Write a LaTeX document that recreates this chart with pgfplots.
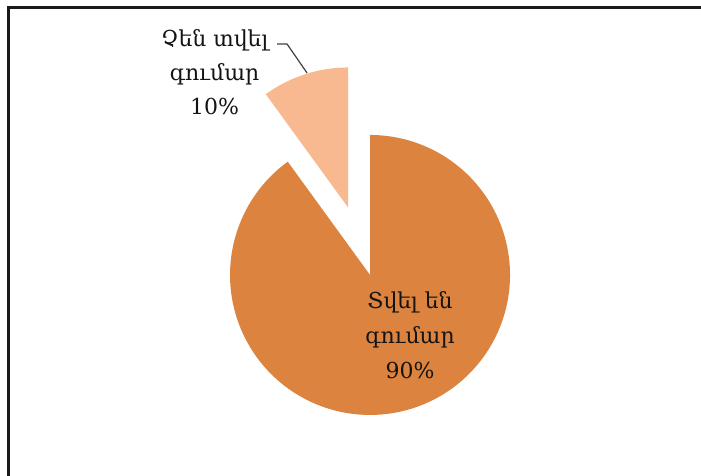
\documentclass[border=0pt]{standalone}
\usepackage{fontspec}
\setmainfont{DejaVu Serif}
\usepackage{pgfplots}
\pgfplotsset{compat=1.18}
\definecolor{bigc}{HTML}{DC843F}
\definecolor{smallc}{HTML}{F8B890}
\definecolor{framec}{HTML}{1A1A1A}
% values (percent)
\def\valA{90}
\def\valB{10}
\begin{document}
\begin{tikzpicture}
\begin{axis}[
  x=140pt, y=140pt,
  xmin=-2.643, xmax=2.364, ymin=-1.429, ymax=1.964,
  hide axis, clip=false,
]
% big slice: 90% starting at 12 o'clock, clockwise
\addplot[fill=bigc, draw=none, domain=90-3.6*\valA:90, samples=200, variable=\t]
  ({cos(t)}, {sin(t)}) -- (axis cs:0,0) -- cycle;
% small slice: 10%, exploded along its bisector
\addplot[fill=smallc, draw=none, domain=90:90+3.6*\valB, samples=40, variable=\t]
  ({-0.1567+cos(t)}, {0.482+sin(t)}) -- (axis cs:-0.1567,0.482) -- cycle;
% leader line
\draw[black!75, line width=1.2pt] (axis cs:-0.664,1.65) -- (axis cs:-0.593,1.65) -- (axis cs:-0.45,1.443);
% labels
\node[font=\fontsize{22}{35}\selectfont, align=center, text=black!92] at (axis cs:0.286,-0.43)
  {Տվել են\\գումար\\90\%};
\node[font=\fontsize{22}{34}\selectfont, align=center, text=black!92] at (axis cs:-1.11,1.45)
  {Չեն տվել\\գումար\\10\%};
% chart frame (top and left edges visible)
\draw[framec, line width=3pt] (axis cs:-2.579,-1.5) -- (axis cs:-2.579,1.907) -- (axis cs:2.5,1.907);
\coordinate (sw) at (axis cs:-2.643,-1.429);
\coordinate (ne) at (axis cs:2.364,1.964);
\end{axis}
\pgfresetboundingbox
\useasboundingbox (sw) rectangle (ne);
\end{tikzpicture}
\end{document}
